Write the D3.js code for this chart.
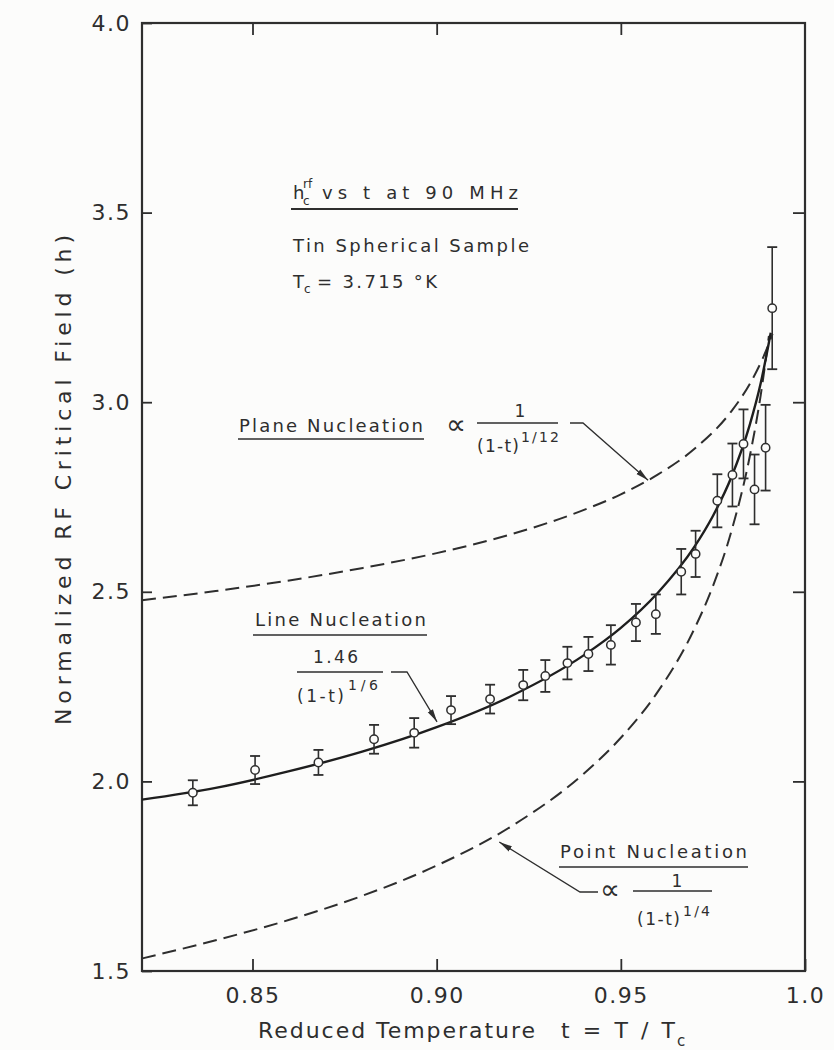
<!DOCTYPE html>
<html>
<head>
<meta charset="utf-8">
<script src="https://cdn.jsdelivr.net/npm/d3@7"></script>
<style>
  html, body { margin: 0; padding: 0; background: #fcfcfb; }
  svg { display: block; }
  text { font-family: "DejaVu Sans", sans-serif; fill: #2e2e2e; }
</style>
</head>
<body>
<svg id="chart" width="834" height="1050"></svg>
<script>
// Measured critical field h_c^rf versus reduced temperature t (tin sphere, 90 MHz)
const tMeas = [0.8338, 0.8507, 0.8679, 0.8830, 0.8939, 0.9039, 0.9145, 0.9235, 0.9295, 0.9355, 0.9412,
               0.9473, 0.9541, 0.9595, 0.9664, 0.9703, 0.9762, 0.9803, 0.9833, 0.9863, 0.9893, 0.9911];
const hMeas = [1.970, 2.030, 2.050, 2.111, 2.128, 2.188, 2.217, 2.254, 2.278, 2.312, 2.336,
               2.360, 2.419, 2.441, 2.553, 2.600, 2.740, 2.808, 2.890, 2.770, 2.880, 3.248];
const hErr  = [0.033, 0.037, 0.033, 0.038, 0.039, 0.037, 0.038, 0.040, 0.042, 0.043, 0.045,
               0.052, 0.049, 0.052, 0.060, 0.061, 0.070, 0.083, 0.091, 0.092, 0.113, 0.161];

// Plane nucleation curve (dashed, upper)
const planeT = [0.82, 0.84, 0.86, 0.88, 0.90, 0.92, 0.94, 0.95, 0.96, 0.97, 0.98, 0.985, 0.9885, 0.9912];
const planeH = [2.478, 2.502, 2.530, 2.563, 2.602, 2.651, 2.716, 2.757, 2.809, 2.877, 2.976, 3.048, 3.115, 3.180];

// Line nucleation curve (solid)
const lineT = [0.82, 0.84, 0.86, 0.88, 0.90, 0.92, 0.94, 0.95, 0.96, 0.97, 0.975, 0.98, 0.985, 0.988, 0.9907];
const lineH = [1.952, 1.983, 2.027, 2.079, 2.143, 2.224, 2.333, 2.405, 2.497, 2.619, 2.700, 2.802, 2.940, 3.051, 3.183];

// Point nucleation curve (dashed, lower)
const pointT = [0.82, 0.84, 0.86, 0.88, 0.90, 0.92, 0.94, 0.95, 0.96, 0.97, 0.975, 0.98, 0.985, 0.988, 0.9902];
const pointH = [1.533, 1.581, 1.635, 1.699, 1.778, 1.880, 2.021, 2.115, 2.236, 2.403, 2.515, 2.659, 2.857, 3.020, 3.175];

const xTicks = [0.85, 0.90, 0.95, 1.0];
const xTickLabels = ["0.85", "0.90", "0.95", "1.0"];
const yTicks = [1.5, 2.0, 2.5, 3.0, 3.5, 4.0];
const yTickLabels = ["1.5", "2.0", "2.5", "3.0", "3.5", "4.0"];

// Where the annotation arrows land on each curve (t, h)
const planeArrowTip = [0.9574, 2.794];
const lineArrowTip  = [0.9001, 2.157];
const pointArrowTip = [0.9170, 1.840];

const ink = "#2e2e2e";
const svg = d3.select("#chart");
const frame = { left: 142, right: 805, top: 23, bottom: 971 };

const x = d3.scaleLinear().domain([0.82, 1.0]).range([frame.left, frame.right]);
const y = d3.scaleLinear().domain([1.5, 4.0]).range([frame.bottom, frame.top]);

// arrowhead
svg.append("defs").append("marker")
  .attr("id", "arrow")
  .attr("viewBox", "0 0 13 12")
  .attr("refX", 13).attr("refY", 6)
  .attr("markerWidth", 13).attr("markerHeight", 12)
  .attr("markerUnits", "userSpaceOnUse")
  .attr("orient", "auto")
  .append("path").attr("d", "M0,3 L13,6 L0,9 Z").attr("fill", ink);

// axes with inward ticks
function styleAxis(g) {
  g.select(".domain").remove();
  g.selectAll(".tick line").attr("stroke", ink).attr("stroke-width", 1.8);
  g.selectAll(".tick text")
    .attr("fill", ink)
    .style("font-size", "22px")
    .style("letter-spacing", "1.5px");
}

svg.append("g")
  .attr("transform", `translate(0,${frame.bottom})`)
  .call(d3.axisBottom(x).tickValues(xTicks).tickSize(-12).tickPadding(16)
        .tickFormat((d, i) => xTickLabels[i]))
  .call(styleAxis);

svg.append("g")
  .attr("transform", `translate(0,${frame.top})`)
  .call(d3.axisTop(x).tickValues(xTicks.slice(0, 3)).tickSize(-12).tickFormat(""))
  .call(styleAxis);

svg.append("g")
  .attr("transform", `translate(${frame.left},0)`)
  .call(d3.axisLeft(y).tickValues(yTicks).tickSize(-10).tickPadding(11)
        .tickFormat((d, i) => yTickLabels[i]))
  .call(styleAxis);

svg.append("g")
  .attr("transform", `translate(${frame.right},0)`)
  .call(d3.axisRight(y).tickValues(yTicks.slice(1, 5)).tickSize(-12).tickFormat(""))
  .call(styleAxis);

// plot frame
svg.append("rect")
  .attr("x", frame.left).attr("y", frame.top)
  .attr("width", frame.right - frame.left).attr("height", frame.bottom - frame.top)
  .attr("fill", "none").attr("stroke", ink).attr("stroke-width", 2.2);

// curves
const curveLine = d3.line().x(d => x(d[0])).y(d => y(d[1])).curve(d3.curveMonotoneX);
const zip = (a, b) => a.map((v, i) => [v, b[i]]);

svg.append("path").datum(zip(planeT, planeH))
  .attr("d", curveLine).attr("fill", "none")
  .attr("stroke", ink).attr("stroke-width", 2).attr("stroke-dasharray", "14,7");

svg.append("path").datum(zip(pointT, pointH))
  .attr("d", curveLine).attr("fill", "none")
  .attr("stroke", ink).attr("stroke-width", 2).attr("stroke-dasharray", "14,7");

svg.append("path").datum(zip(lineT, lineH))
  .attr("d", curveLine).attr("fill", "none")
  .attr("stroke", "#1e1e1e").attr("stroke-width", 2.4);

// data points with error bars
const pts = tMeas.map((t, i) => ({ t, h: hMeas[i], e: hErr[i] }));
const gPts = svg.append("g");
const bars = gPts.selectAll("g.bar").data(pts).join("g").attr("class", "bar");
bars.append("line")
  .attr("x1", d => x(d.t)).attr("x2", d => x(d.t))
  .attr("y1", d => y(d.h - d.e)).attr("y2", d => y(d.h + d.e))
  .attr("stroke", ink).attr("stroke-width", 1.6);
bars.append("line")
  .attr("x1", d => x(d.t) - 5).attr("x2", d => x(d.t) + 5)
  .attr("y1", d => y(d.h + d.e)).attr("y2", d => y(d.h + d.e))
  .attr("stroke", ink).attr("stroke-width", 1.8);
bars.append("line")
  .attr("x1", d => x(d.t) - 5).attr("x2", d => x(d.t) + 5)
  .attr("y1", d => y(d.h - d.e)).attr("y2", d => y(d.h - d.e))
  .attr("stroke", ink).attr("stroke-width", 1.8);
gPts.selectAll("circle").data(pts).join("circle")
  .attr("cx", d => x(d.t)).attr("cy", d => y(d.h)).attr("r", 4.2)
  .attr("fill", "#fcfcfb").attr("stroke", ink).attr("stroke-width", 1.5);

// axis titles
svg.append("text")
  .attr("transform", "translate(71,480) rotate(-90)")
  .attr("text-anchor", "middle")
  .attr("textLength", 490).attr("lengthAdjust", "spacing")
  .style("font-size", "22px")
  .text("Normalized RF Critical Field (h)");

svg.append("text")
  .attr("x", 258).attr("y", 1038)
  .attr("textLength", 277).attr("lengthAdjust", "spacing")
  .style("font-size", "22px")
  .text("Reduced Temperature");
svg.append("text")
  .attr("x", 561).attr("y", 1038)
  .attr("textLength", 114).attr("lengthAdjust", "spacing")
  .style("font-size", "22px")
  .text("t=T/T");
svg.append("text")
  .attr("x", 677).attr("y", 1046)
  .style("font-size", "15px")
  .text("c");

// annotation helpers
function label(txt, xx, yy, size, len, anchor) {
  const t = svg.append("text").attr("x", xx).attr("y", yy)
    .style("font-size", size + "px").text(txt);
  if (len) t.attr("textLength", len).attr("lengthAdjust", "spacing");
  if (anchor) t.attr("text-anchor", anchor);
  return t;
}
function rule(x1, x2, yy, w) {
  svg.append("line").attr("x1", x1).attr("x2", x2).attr("y1", yy).attr("y2", yy)
    .attr("stroke", ink).attr("stroke-width", w || 1.6);
}
function leader(points, tip) {
  const all = points.concat([[x(tip[0]), y(tip[1])]]);
  svg.append("path")
    .attr("d", d3.line()(all))
    .attr("fill", "none").attr("stroke", ink).attr("stroke-width", 1.3)
    .attr("marker-end", "url(#arrow)");
}

// sample description block
label("h", 293, 199, 18);
label("rf", 303, 188, 12);
label("c", 303, 205, 12);
label("vs t at 90 MHz", 322, 199, 18, 196);
rule(291, 518, 209, 1.8);
label("Tin Spherical Sample", 293, 252, 18, 236);
label("T", 293, 288, 18);
label("c", 304, 293, 12);
label("= 3.715 °K", 317, 288, 18, 120);

// plane nucleation
label("Plane Nucleation", 239, 432, 18, 184);
rule(238, 424, 439);
label("∝", 456, 434, 28, null, "middle");
label("1", 520, 417, 17, null, "middle");
rule(477, 558, 423);
label("(1-t)", 477, 452, 17, 42);
label("1/12", 521, 442, 14, 38);
leader([[570, 423], [583, 423]], planeArrowTip);

// line nucleation
label("Line Nucleation", 255, 626, 18, 171);
rule(253, 427, 635);
label("1.46", 313, 663, 17, 45);
rule(297, 383, 672);
label("(1-t)", 297, 702, 17, 47);
label("1/6", 348, 690, 14, 30);
leader([[391, 672], [407, 672]], lineArrowTip);

// point nucleation
label("Point Nucleation", 560, 858, 18, 187);
rule(559, 748, 867);
label("∝", 610, 899, 28, null, "middle");
label("1", 677, 887, 17, null, "middle");
rule(633, 712, 891);
label("(1-t)", 637, 925, 17, 43);
label("1/4", 683, 916, 14, 27);
leader([[598, 892], [580, 892]], pointArrowTip);
</script>
</body>
</html>
